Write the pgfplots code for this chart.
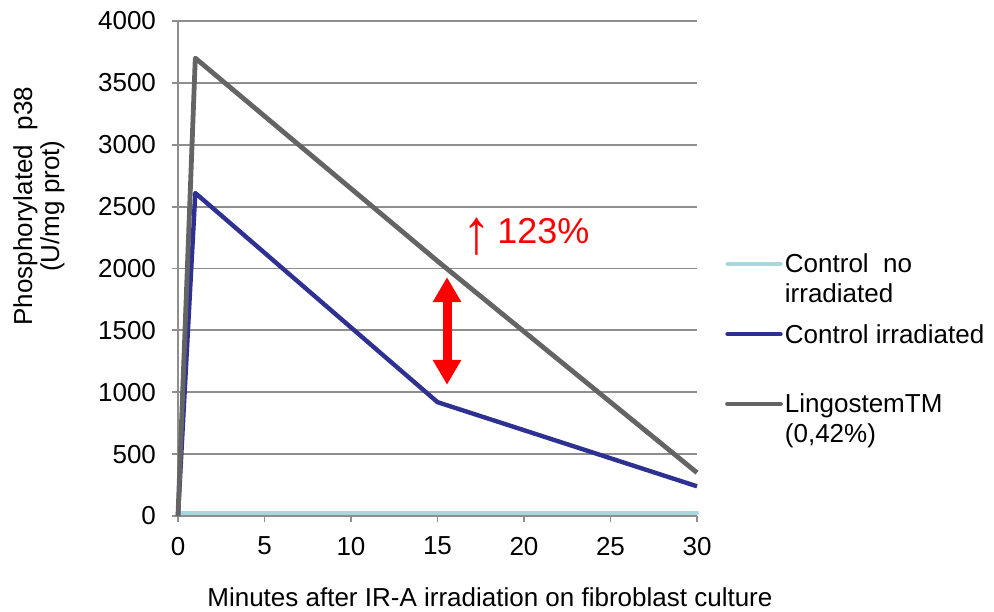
\documentclass[border=0pt]{standalone}
\usepackage{fontspec}
\setmainfont{Liberation Sans}
\usepackage{pgfplots}
\pgfplotsset{compat=1.18}
\usetikzlibrary{arrows.meta}
\definecolor{cgrid}{HTML}{8E8E8E}
\definecolor{clight}{HTML}{A9D7DB}
\definecolor{cblue}{HTML}{2E3192}
\definecolor{cgray}{HTML}{646464}
\newcommand{\lf}{\fontsize{13}{15}\selectfont}
\begin{document}
\begin{tikzpicture}
\begin{axis}[
  scale only axis,
  width=259.5pt, height=247.5pt,
  xmin=0, xmax=30, ymin=0, ymax=4000,
  xtick={0,5,...,30}, ytick={0,500,...,4000},
  axis x line=bottom, axis y line=left,
  axis line style={cgrid, line width=0.9pt, -},
  ymajorgrids,
  grid style={cgrid, line width=0.9pt},
  tick align=outside,
  major tick length=3pt,
  tick style={cgrid, line width=0.9pt},
  /pgf/number format/assume math mode=true,
  /pgf/number format/1000 sep={},
  tick label style={font=\lf},
  xticklabel style={yshift=-4pt},
  yticklabel style={xshift=-4.5pt},
  xlabel={Minutes after IR-A irradiation on fibroblast culture},
  every axis x label/.style={at={(axis description cs:0.601,0)}, anchor=base, yshift=-45pt, font=\lf},
  ylabel={Phosphorylated\ \ p38\\(U/mg prot)},
  every axis y label/.style={at={(axis description cs:-0.268,0.626)}, rotate=90, anchor=center, align=center, font=\fontsize{13}{13.5}\selectfont},
  clip=false,
  legend style={draw=none, fill=none, inner sep=0pt, outer sep=0pt,
    at={(axis description cs:1.0542,0.529)}, anchor=north west,
    font=\lf, row sep=10.5pt, column sep=1pt,
    nodes={inner sep=0pt, text depth=, anchor=base west}},
  legend image code/.code={\draw[#1, line cap=round] (1pt,4.5pt) -- (27.5pt,4.5pt);},
]
\addplot[clight, line width=2.2pt, line join=round, line cap=round] coordinates {(0,25) (1,25) (15,25) (30,25)};
\addlegendentry{\vtop{\hbox{Control\ \ no}\hbox{irradiated}}}
\addplot[cblue, line width=2.2pt, line join=round] coordinates {(0,0) (1,2610) (15,920) (30,240)};
\addlegendentry{\vtop{\hbox{Control irradiated}\hbox{}}}
\addplot[cgray, line width=2.4pt, line join=round] coordinates {(0,0) (1,3700) (15,2060) (30,350)};
\addlegendentry{\vtop{\hbox{LingostemTM}\hbox{(0,42\%)}}}
\draw[red, line width=4.5pt, {Triangle[width=13.5pt,length=12.5pt]}-{Triangle[width=13.5pt,length=12.5pt]}] (axis cs:15.55,1060) -- (axis cs:15.55,1930);
\node[red, font=\fontsize{18}{20}\selectfont] at (axis cs:20.12,2258) {\raisebox{-5pt}{\scalebox{1.6}[1.75]{↑}}\kern3pt 123\%};
\end{axis}
\pgfresetboundingbox
\path (-89pt,-47.5pt) rectangle (408pt,258pt);
\end{tikzpicture}
\end{document}
